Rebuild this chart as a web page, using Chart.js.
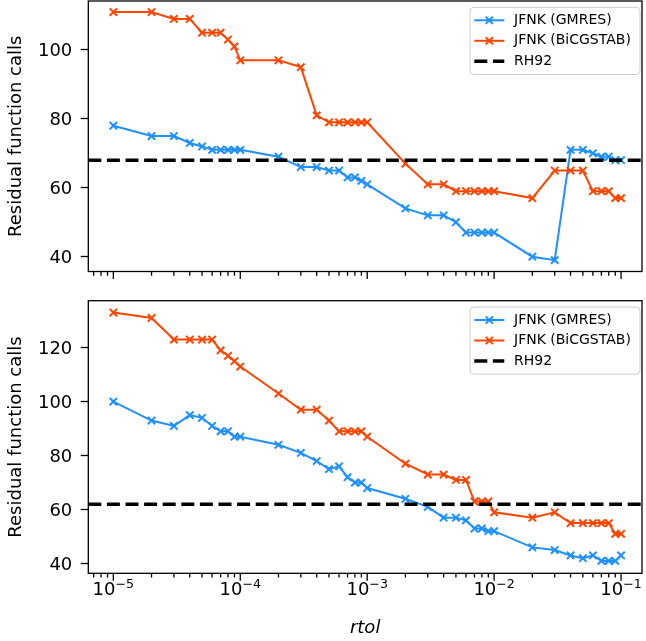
<!DOCTYPE html>
<html>
<head>
<meta charset="utf-8">
<script src="https://cdn.jsdelivr.net/npm/chart.js@4.4.1/dist/chart.umd.min.js"></script>
<style>
  html, body { margin: 0; padding: 0; background: #fff; overflow: hidden; }
  #wrap { position: relative; width: 646px; height: 641px; }
  .panel { position: absolute; left: 0; }
  canvas { display: block; }
</style>
</head>
<body>
<div id="wrap">
  <div class="panel" style="top:0px"><canvas id="topChart" width="646" height="290"></canvas></div>
  <div class="panel" style="top:290px"><canvas id="bottomChart" width="646" height="351"></canvas></div>
</div>
<script>
// rtol values (x), shared by both panels
const rtol = [
    1e-5, 2e-5, 3e-5, 4e-5, 5e-5, 6e-5, 7e-5, 8e-5, 9e-5,
    1e-4, 2e-4, 3e-4, 4e-4, 5e-4, 6e-4, 7e-4, 8e-4, 9e-4,
    1e-3, 2e-3, 3e-3, 4e-3, 5e-3, 6e-3, 7e-3, 8e-3, 9e-3,
    1e-2, 2e-2, 3e-2, 4e-2, 5e-2, 6e-2, 7e-2, 8e-2, 9e-2,
    1e-1
];

// top panel
const gmresTop = [78, 75, 75, 73, 72, 71, 71, 71, 71,
                  71, 69, 66, 66, 65, 65, 63, 63, 62,
                  61, 54, 52, 52, 50, 47, 47, 47, 47,
                  47, 40, 39, 71, 71, 70, 69, 69, 68,
                  68];
const bicgTop = [111, 111, 109, 109, 105, 105, 105, 103, 101,
                 97, 97, 95, 81, 79, 79, 79, 79, 79,
                 79, 67, 61, 61, 59, 59, 59, 59, 59,
                 59, 57, 65, 65, 65, 59, 59, 59, 57,
                 57];
const rh92Top = 68;

// bottom panel
const gmresBottom = [100, 93, 91, 95, 94, 91, 89, 89, 87,
                     87, 84, 81, 78, 75, 76, 72, 70, 70,
                     68, 64, 61, 57, 57, 56, 53, 53, 52,
                     52, 46, 45, 43, 42, 43, 41, 41, 41,
                     43];
const bicgBottom = [133, 131, 123, 123, 123, 123, 119, 117, 115,
                    113, 103, 97, 97, 93, 89, 89, 89, 89,
                    87, 77, 73, 73, 71, 71, 63, 63, 63,
                    59, 57, 59, 55, 55, 55, 55, 55, 51,
                    51];
const rh92Bottom = 62;

const seriesLabels = ['JFNK (GMRES)', 'JFNK (BiCGSTAB)', 'RH92'];
const yTicksTop = [40, 60, 80, 100];
const yTicksBottom = [40, 60, 80, 100, 120];
const xMajor = [1e-5, 1e-4, 1e-3, 1e-2, 1e-1];
const xExponents = ['\u22125', '\u22124', '\u22123', '\u22122', '\u22121'];
const xTitle = 'rtol';
const yTitle = 'Residual function calls';
const xLimits = [6.35e-6, 0.1462];

const blue = '#1E90FF';
const red = '#FF4500';
const FONT = "'DejaVu Sans', sans-serif";

Chart.defaults.font.family = FONT;
Chart.defaults.font.size = 18;
Chart.defaults.color = '#000';

const xMinor = [];
[1e-6, 1e-5, 1e-4, 1e-3, 1e-2].forEach(d => {
    for (let k = 2; k <= 9; k++) xMinor.push(k * d);
});

function makePoints(ys) {
    return rtol.map((x, i) => ({ x: x, y: ys[i] }));
}

function drawCross(ctx, x, y, h) {
    ctx.moveTo(x - h, y - h); ctx.lineTo(x + h, y + h);
    ctx.moveTo(x - h, y + h); ctx.lineTo(x + h, y - h);
}

// frame, x ticks, legend, x labels
const axesDecor = {
    id: 'axesDecor',
    afterDatasetsDraw(chart) {
        const ctx = chart.ctx;
        const a = chart.chartArea;
        const xs = chart.scales.x;
        ctx.save();
        ctx.strokeStyle = '#000';
        ctx.lineWidth = 1.3;
        ctx.strokeRect(a.left, a.top, a.right - a.left, a.bottom - a.top);
        ctx.beginPath();
        xMajor.forEach(v => {
            const px = xs.getPixelForValue(v);
            ctx.moveTo(px, a.bottom); ctx.lineTo(px, a.bottom + 7.5);
        });
        xMinor.filter(v => v > xs.min && v < xs.max).forEach(v => {
            const px = xs.getPixelForValue(v);
            ctx.moveTo(px, a.bottom); ctx.lineTo(px, a.bottom + 4.3);
        });
        ctx.stroke();
        ctx.restore();
    },
    afterDraw(chart, args, opts) {
        const ctx = chart.ctx;
        const a = chart.chartArea;
        const xs = chart.scales.x;

        // legend
        ctx.save();
        const boxL = 470, boxR = a.right - 2, boxT = a.top + 6.3, boxB = a.top + 73.5, r = 4;
        ctx.beginPath();
        ctx.moveTo(boxL + r, boxT);
        ctx.arcTo(boxR, boxT, boxR, boxB, r);
        ctx.arcTo(boxR, boxB, boxL, boxB, r);
        ctx.arcTo(boxL, boxB, boxL, boxT, r);
        ctx.arcTo(boxL, boxT, boxR, boxT, r);
        ctx.closePath();
        ctx.fillStyle = 'rgba(255,255,255,0.8)';
        ctx.fill();
        ctx.strokeStyle = '#cccccc';
        ctx.lineWidth = 1;
        ctx.stroke();

        chart.data.datasets.forEach((ds, i) => {
            const y = a.top + 19.3 + i * 20.5;
            ctx.beginPath();
            ctx.setLineDash(ds.borderDash || []);
            ctx.strokeStyle = ds.borderColor;
            ctx.lineWidth = ds.borderWidth;
            ctx.moveTo(474.3, y); ctx.lineTo(504.3, y);
            ctx.stroke();
            ctx.setLineDash([]);
            if (ds.pointRadius > 0) {
                ctx.beginPath();
                ctx.lineWidth = ds.pointBorderWidth;
                drawCross(ctx, 489.3, y, 3.6);
                ctx.stroke();
            }
            ctx.fillStyle = '#000';
            ctx.font = '14px ' + FONT;
            ctx.textBaseline = 'middle';
            ctx.textAlign = 'left';
            ctx.fillText(ds.label, 514, y);
        });
        ctx.restore();

        if (!opts.labels) return;

        // x tick labels 10^k and axis title
        ctx.save();
        ctx.fillStyle = '#000';
        ctx.textBaseline = 'alphabetic';
        ctx.textAlign = 'left';
        xMajor.forEach((v, i) => {
            const px = xs.getPixelForValue(v);
            ctx.font = '18px ' + FONT;
            const w1 = ctx.measureText('10').width;
            ctx.font = '12.6px ' + FONT;
            const w2 = ctx.measureText(xExponents[i]).width;
            const x0 = px - (w1 + w2) / 2;
            ctx.font = '18px ' + FONT;
            ctx.fillText('10', x0, a.bottom + 21.7);
            ctx.font = '12.6px ' + FONT;
            ctx.fillText(xExponents[i], x0 + w1, a.bottom + 14.7);
        });
        ctx.font = 'italic 18px ' + FONT;
        ctx.textAlign = 'center';
        ctx.fillText(xTitle, (a.left + a.right) / 2, a.bottom + 59.4);
        ctx.restore();
    }
};

function makeChart(id, gmres, bicg, rh92, yTicks, yRange, pad, xHeight, showLabels) {
    return new Chart(document.getElementById(id), {
        type: 'line',
        data: {
            datasets: [{
                label: seriesLabels[0],
                data: makePoints(gmres),
                borderColor: blue,
                backgroundColor: blue,
                borderWidth: 2,
                pointStyle: 'crossRot',
                pointRadius: 5.2,
                pointBorderWidth: 2,
                pointBorderColor: blue,
                tension: 0,
                order: 3
            }, {
                label: seriesLabels[1],
                data: makePoints(bicg),
                borderColor: red,
                backgroundColor: red,
                borderWidth: 2,
                pointStyle: 'crossRot',
                pointRadius: 5.2,
                pointBorderWidth: 2,
                pointBorderColor: red,
                tension: 0,
                order: 2
            }, {
                label: seriesLabels[2],
                data: [{ x: xLimits[0], y: rh92 }, { x: xLimits[1], y: rh92 }],
                borderColor: '#000',
                backgroundColor: '#000',
                borderWidth: 3.5,
                borderDash: [13, 5.6],
                pointRadius: 0,
                tension: 0,
                order: 1
            }]
        },
        options: {
            responsive: false,
            animation: false,
            devicePixelRatio: 1,
            events: [],
            layout: { autoPadding: false, padding: { top: pad, right: 4, left: 0, bottom: 0 } },
            plugins: {
                legend: { display: false },
                tooltip: { enabled: false },
                axesDecor: { labels: showLabels }
            },
            scales: {
                x: {
                    type: 'logarithmic',
                    min: xLimits[0],
                    max: xLimits[1],
                    grid: { display: false },
                    border: { display: false },
                    ticks: { display: false },
                    afterFit: s => {
                        s.height = xHeight;
                        s.paddingLeft = 0; s.paddingRight = 0;
                        s.paddingTop = 0; s.paddingBottom = 0;
                    }
                },
                y: {
                    type: 'linear',
                    min: yRange[0],
                    max: yRange[1],
                    afterBuildTicks: s => { s.ticks = yTicks.map(v => ({ value: v })); },
                    afterFit: s => {
                        s.width = 88.3;
                        s.paddingTop = 0; s.paddingBottom = 0;
                        s.paddingLeft = 0; s.paddingRight = 0;
                    },
                    grid: {
                        display: true,
                        drawOnChartArea: false,
                        drawTicks: true,
                        tickLength: 7.5,
                        tickColor: '#000',
                        tickWidth: 1.3,
                        color: '#000'
                    },
                    border: { display: false },
                    ticks: {
                        color: '#000',
                        font: { size: 18 },
                        padding: 8.5,
                        labelOffset: 1.8
                    },
                    title: {
                        display: true,
                        text: yTitle,
                        color: '#000',
                        font: { size: 18 },
                        padding: { top: 6, bottom: 0 }
                    }
                }
            }
        },
        plugins: [axesDecor]
    });
}

makeChart('topChart', gmresTop, bicgTop, rh92Top, yTicksTop, [35.7, 114.2], 1, 18.5, false);
makeChart('bottomChart', gmresBottom, bicgBottom, rh92Bottom, yTicksBottom, [36.4, 137.4], 10.7, 67.7, true);
</script>
</body>
</html>
